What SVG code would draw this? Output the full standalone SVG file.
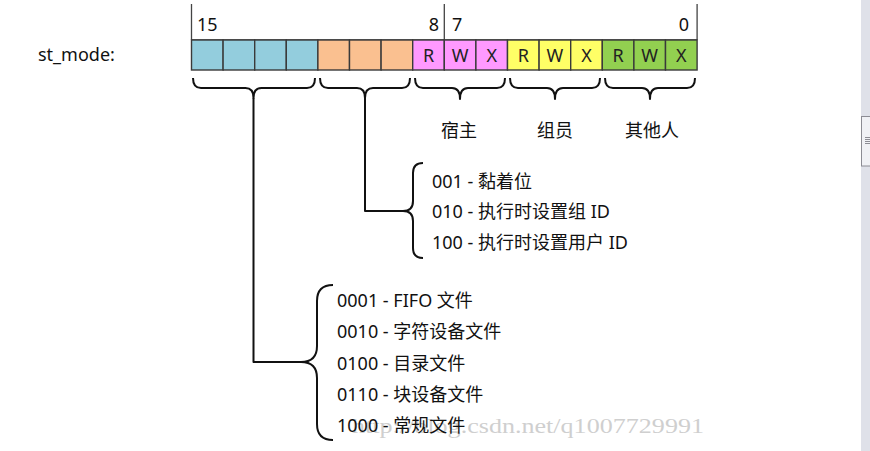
<svg xmlns="http://www.w3.org/2000/svg" width="870" height="451" viewBox="0 0 870 451">
<style>
  .t { font-family: "Noto Sans", "Noto Sans CJK SC", sans-serif; font-size: 18px; fill: #111; }
  .c { font-family: "Noto Sans", "Noto Sans CJK SC", sans-serif; font-size: 18px; fill: #111; text-anchor: middle; }
  .bit { font-family: "Noto Sans", "Liberation Sans", sans-serif; font-size: 18px; fill: #222; text-anchor: middle; }
  .cell { stroke: #3a3a3a; stroke-width: 1.4; }
  .blue { fill: #93CDDD; }
  .orange { fill: #FAC090; }
  .pink { fill: #FF99FF; }
  .yellow { fill: #FFFF66; }
  .green { fill: #92D050; }
  .line { fill: none; stroke: #111; stroke-width: 2; stroke-linejoin: round; }
  .thin { fill: none; stroke: #444; stroke-width: 1.3; }
  .wm { font-family: "Liberation Serif", serif; font-size: 21px; fill: #cfcfcf; }
</style>
<rect width="870" height="451" fill="#ffffff"/>

<g id="label-st_mode">
  <text class="t" x="38" y="61">st_mode:</text>
</g>

<g id="bit-ruler">
  <path class="thin" d="M191.5,4 V40 M444.3,4 V40 M697.1,4 V40 M191.5,40 H697.1"/>
  <text class="t" x="197" y="31">15</text>
  <text class="t" x="439" y="31" text-anchor="end">8</text>
  <text class="t" x="452" y="31">7</text>
  <text class="t" x="689" y="31" text-anchor="end">0</text>
</g>

<g id="field-file-type">
  <rect class="cell blue" x="191.5" y="40" width="31.6" height="30"/>
  <rect class="cell blue" x="223.1" y="40" width="31.6" height="30"/>
  <rect class="cell blue" x="254.7" y="40" width="31.6" height="30"/>
  <rect class="cell blue" x="286.3" y="40" width="31.6" height="30"/>
</g>
<g id="field-special">
  <rect class="cell orange" x="317.9" y="40" width="31.6" height="30"/>
  <rect class="cell orange" x="349.5" y="40" width="31.6" height="30"/>
  <rect class="cell orange" x="381.1" y="40" width="31.6" height="30"/>
</g>
<g id="field-owner">
  <rect class="cell pink" x="412.7" y="40" width="31.6" height="30"/>
  <rect class="cell pink" x="444.3" y="40" width="31.6" height="30"/>
  <rect class="cell pink" x="475.9" y="40" width="31.6" height="30"/>
  <text class="bit" x="428.5" y="62">R</text>
  <text class="bit" x="460.1" y="62">W</text>
  <text class="bit" x="491.7" y="62">X</text>
</g>
<g id="field-group">
  <rect class="cell yellow" x="507.5" y="40" width="31.6" height="30"/>
  <rect class="cell yellow" x="539.1" y="40" width="31.6" height="30"/>
  <rect class="cell yellow" x="570.7" y="40" width="31.6" height="30"/>
  <text class="bit" x="523.3" y="62">R</text>
  <text class="bit" x="554.9" y="62">W</text>
  <text class="bit" x="586.5" y="62">X</text>
</g>
<g id="field-other">
  <rect class="cell green" x="602.3" y="40" width="31.6" height="30"/>
  <rect class="cell green" x="633.9" y="40" width="31.6" height="30"/>
  <rect class="cell green" x="665.5" y="40" width="31.6" height="30"/>
  <text class="bit" x="618.1" y="62">R</text>
  <text class="bit" x="649.7" y="62">W</text>
  <text class="bit" x="681.3" y="62">X</text>
</g>

<g id="connectors">
  <path class="line" d="M193,78 Q193,88 201,88 H245.5 Q253.5,88 253.5,98 Q253.5,88 261.5,88 H307 Q315,88 315,78"/>
  <path class="line" d="M253.5,98 V362 H301"/>
  <path class="line" d="M320,78 Q320,88 328,88 H357 Q365,88 365,98 Q365,88 373,88 H402 Q410,88 410,78"/>
  <path class="line" d="M365,98 V211 H403"/>
  <path class="line" d="M415,78 Q415,88 423,88 H452 Q460,88 460,99 Q460,88 468,88 H497 Q505,88 505,78"/>
  <path class="line" d="M510,78 Q510,88 518,88 H547 Q555,88 555,99 Q555,88 563,88 H592 Q600,88 600,78"/>
  <path class="line" d="M605,78 Q605,88 613,88 H642 Q650,88 650,99 Q650,88 658,88 H687 Q695,88 695,78"/>
  <path class="line" d="M423,163 Q413,163 413,173 V201 Q413,211 403,211 Q413,211 413,221 V248 Q413,258 423,258"/>
  <path class="line" d="M333,285 Q317,285 317,301 V346 Q317,362 301,362 Q317,362 317,378 V424 Q317,440 333,440"/>
</g>

<g id="label-owner"><text class="c" x="459" y="137">宿主</text></g>
<g id="label-group"><text class="c" x="555" y="137">组员</text></g>
<g id="label-other"><text class="c" x="652" y="137">其他人</text></g>

<g id="list-special">
  <text class="t" x="432" y="188">001 - 黏着位</text>
  <text class="t" x="432" y="218">010 - 执行时设置组 ID</text>
  <text class="t" x="432" y="249">100 - 执行时设置用户 ID</text>
</g>

<text class="wm" x="352" y="433" textLength="352" lengthAdjust="spacingAndGlyphs">http://blog.csdn.net/q1007729991</text>

<g id="list-file-type">
  <text class="t" x="337" y="307">0001 - FIFO 文件</text>
  <text class="t" x="337" y="338">0010 - 字符设备文件</text>
  <text class="t" x="337" y="370">0100 - 目录文件</text>
  <text class="t" x="337" y="401">0110 - 块设备文件</text>
  <text class="t" x="337" y="432">1000 - 常规文件</text>
</g>

<g id="scrollbar">
  <rect x="861" y="0" width="9" height="451" fill="#dfe1e9"/>
  <rect x="861.5" y="116.5" width="9" height="49.5" fill="#f0f1f5" stroke="#8c8c94" stroke-width="1"/>
  <path d="M865,137.5 H870 M865,139.5 H870 M865,141.5 H870 M865,143.5 H870" stroke="#8c8c94" stroke-width="1"/>
</g>
</svg>
